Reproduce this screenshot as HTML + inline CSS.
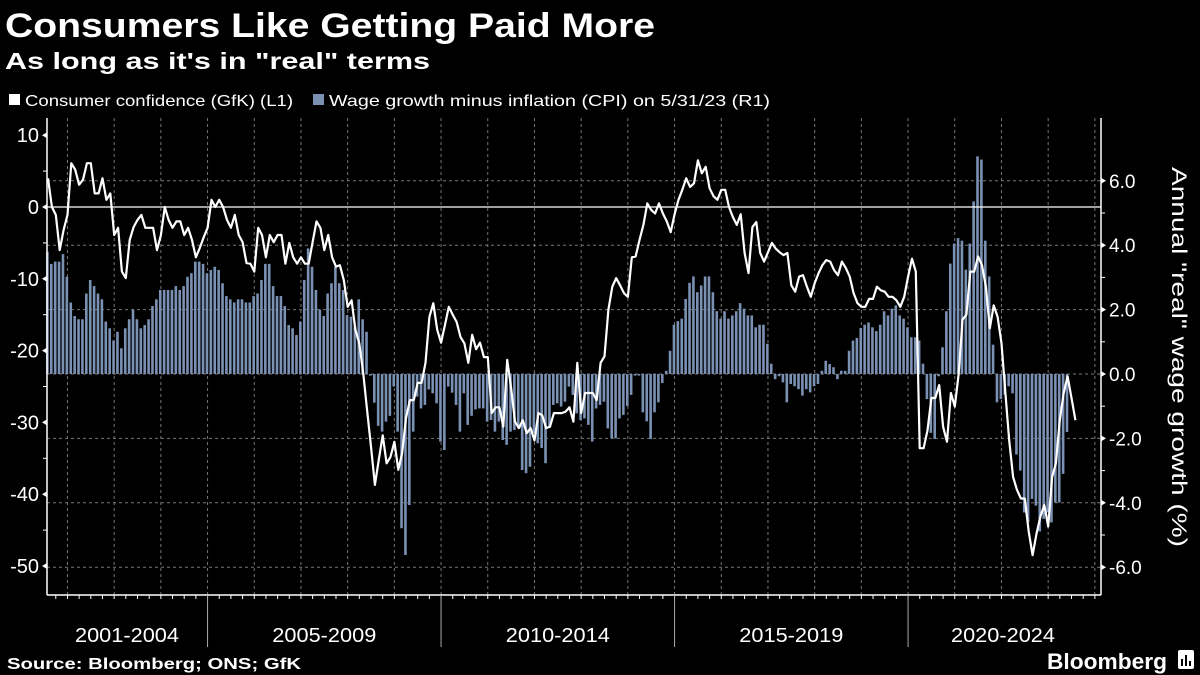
<!DOCTYPE html>
<html><head><meta charset="utf-8">
<style>
html,body{margin:0;padding:0;background:#000;}
svg{display:block;}
text{font-family:"Liberation Sans","DejaVu Sans",sans-serif;fill:#fff;}
</style></head>
<body>
<svg id="chart" width="1200" height="675" viewBox="0 0 1200 675" xmlns="http://www.w3.org/2000/svg">
<rect x="0" y="0" width="1200" height="675" fill="#000"/>
<text x="5" y="37" font-size="34" font-weight="bold" textLength="650" lengthAdjust="spacingAndGlyphs">Consumers Like Getting Paid More</text>
<text x="5" y="69" font-size="23" font-weight="bold" textLength="425" lengthAdjust="spacingAndGlyphs">As long as it's in "real" terms</text>
<g>
 <g>
  <rect x="9" y="94" width="11" height="11" fill="#fff"/>
  <text x="25" y="106" font-size="16" textLength="268" lengthAdjust="spacingAndGlyphs">Consumer confidence (GfK) (L1)</text>
 </g>
 <g>
  <rect x="313" y="94" width="11" height="11" fill="#7a91b4"/>
  <text x="329" y="106" font-size="16" textLength="441" lengthAdjust="spacingAndGlyphs">Wage growth minus inflation (CPI) on 5/31/23 (R1)</text>
 </g>
</g>
<g id="grid"></g>
<g id="bars"></g>
<g id="axes"></g>
<g id="line"></g>
<text transform="translate(1172,357) rotate(90)" text-anchor="middle" font-size="21" textLength="380" lengthAdjust="spacingAndGlyphs">Annual "real" wage growth (%)</text>
<text x="7" y="669" font-size="16" font-weight="bold" textLength="294" lengthAdjust="spacingAndGlyphs">Source: Bloomberg; ONS; GfK</text>
<text x="1047" y="669" font-size="22" font-weight="bold" textLength="120" lengthAdjust="spacingAndGlyphs">Bloomberg</text>
<g>
 <rect x="1178" y="650" width="16" height="19" rx="2" fill="#fff"/>
 <rect x="1181" y="659" width="2" height="7" fill="#000"/>
 <rect x="1185" y="655" width="2" height="11" fill="#000"/>
 <rect x="1189" y="661" width="2" height="5" fill="#000"/>
</g>
</svg>
<script>
const confidence = [4,0,-1.1,-6,-3.2,-1.1,6.1,5.2,3.1,3.8,6.1,6.1,1.9,1.9,4,1,1.9,-3.9,-2.9,-9,-9.9,-4.6,-2.8,-1.8,-1.1,-2.9,-2.9,-2.9,-6,-3.9,0,-1.8,-2.9,-2,-2,-3.9,-2.9,-4.6,-7,-5.7,-4.2,-2.9,1,0,1,0,-1.8,-2.9,-1.1,-3.9,-4.9,-7.8,-7.9,-9,-2.9,-3.9,-7,-3.9,-4.9,-3.9,-3.9,-7.9,-5,-7,-7.9,-7,-7.9,-7.9,-4.9,-2,-2.9,-6,-3.9,-7,-8.3,
-8.1,-10.2,-13.9,-13,-17.1,-19,-23.1,-28.3,-33.4,-38.7,-35.2,-31.8,-35.7,-34.8,-32.7,-36.6,-34.3,-29.4,-26.9,-26.9,-24.5,-24.5,-21.7,-15.3,-13.4,-17.1,-18.9,-16.4,-13.9,-15,-16,-18.1,-19,-21.7,-17.8,-19.8,-18.9,-20.9,-20.9,-28.7,-27.9,-27.9,-30.6,-21.3,-25.2,-29.9,-30.8,-29.7,-31.5,-30.8,-32.5,-28.7,-29,-30.8,-30.6,-28.7,-28.7,-28.7,-28.5,-27.9,-29.9,-21.7,-28.7,-25.9,-25.9,-25.9,-26.9,-21.7,-20.8,-14.3,-11.1,-9.9,-10.9,-12,-12.5,-7,
-6.9,-4.6,-2.5,0.5,-0.4,-0.9,0.5,-0.9,-2,-3.5,-1,1,2.4,4,2.8,3.3,6.5,4.7,5.6,2.6,1.5,1,2.4,2.4,0,-1.4,-2.5,-1,-6.4,-9.2,-2.8,-2.1,-6.4,-7.6,-6.3,-5,-5.8,-6.3,-6.7,-6.4,-10.9,-11.8,-9.7,-9.5,-11.1,-12.5,-10.6,-9.2,-8.1,-7.4,-7.6,-8.8,-9.5,-7.6,-8.5,-9.7,-12,-13.4,-13.9,-13.9,-12.8,-12.8,-11.1,-11.6,-11.8,-12.5,-12.5,-13,-13.9,-12.5,-9.7,-7.2,-9,
-33.6,-33.6,-31.1,-26.6,-26.6,-24.8,-30.6,-32.7,-25.9,-27.8,-23.2,-15.7,-15,-9,-9,-6.9,-8.1,-11.1,-16.9,-13.7,-15.3,-19,-25.9,-32.5,-37.6,-39.4,-40.6,-40.6,-45.2,-48.5,-45.5,-43.1,-41.5,-44.5,-37.6,-35.7,-29.7,-25.9,-23.6,-26.6,-29.7];
const wageGrowth = [3.8,3.42,3.49,3.49,3.72,3.02,2.22,1.8,1.7,1.7,2.5,2.92,2.73,2.5,2.32,1.63,1.42,1.04,1.31,0.8,1.42,1.7,2.0,1.7,1.42,1.52,1.7,2.11,2.32,2.61,2.61,2.61,2.61,2.73,2.61,2.73,3.02,3.13,3.49,3.49,3.42,3.13,3.23,3.33,3.23,2.82,2.42,2.32,2.22,2.32,2.32,2.22,2.22,2.42,2.5,2.92,3.42,3.42,2.73,2.42,2.42,2.11,1.52,1.42,1.21,1.63,2.92,3.9,3.33,2.61,2.0,1.8,2.5,2.82,3.33,2.82,
2.61,1.83,1.78,1.47,2.32,1.7,1.31,-0.05,-0.89,-1.61,-1.79,-1.48,-1.3,-0.39,-1.79,-4.79,-5.62,-4.07,-1.79,-0.7,-1.07,-0.96,-0.48,-0.6,-0.91,-2.1,-2.36,-0.39,-0.58,-0.96,-1.79,-0.6,-1.58,-1.3,-1.1,-1.07,-1.07,-1.48,-1.43,-1.79,-1.48,-2.05,-2.2,-1.79,-1.74,-1.69,-2.98,-3.08,-2.88,-1.84,-2.15,-2.3,-2.77,-1.64,-0.96,-0.91,-1.01,-0.86,-0.39,-0.65,-1.22,-1.43,-1.38,-1.58,-2.1,-1.07,-0.96,-0.86,-1.69,-2.0,-2.0,-1.38,-1.27,-0.99,-0.65,
-0.05,-0.05,-1.19,-1.47,-2.02,-1.19,-0.88,-0.28,0.1,0.72,1.53,1.64,1.72,2.33,2.83,3.03,2.54,2.75,3.03,3.03,2.54,1.95,1.72,1.95,1.72,1.82,1.95,2.2,2.03,1.82,1.82,1.45,1.53,1.53,0.94,0.32,-0.16,-0.07,-0.26,-0.88,-0.31,-0.38,-0.47,-0.67,-0.47,-0.57,-0.38,-0.31,0.1,0.41,0.31,0.21,-0.16,0.1,0.1,0.72,1.04,1.12,1.43,1.53,1.6,1.45,1.33,1.53,1.95,1.82,2.03,2.13,1.82,1.72,1.45,1.14,1.14,1.04,
0.32,-0.78,-1.83,-2.02,-0.07,0.83,1.95,3.43,4.05,4.22,4.14,3.24,4.05,5.36,6.76,6.66,4.14,3.03,0.91,-0.88,-0.78,-0.64,-0.38,-0.6,-2.5,-3.0,-4.3,-4.61,-3.88,-4.09,-4.89,-4.5,-4.3,-4.61,-3.99,-3.99,-3.1,-1.8];
const leftTicks = [10,0,-10,-20,-30,-40,-50];
const leftTickLabels = ["10","0","-10","-20","-30","-40","-50"];
const rightTicks = [6,4,2,0,-2,-4,-6];
const rightTickLabels = ["6.0","4.0","2.0","0.0","-2.0","-4.0","-6.0"];
const periodLabels = ["2001-2004","2005-2009","2010-2014","2015-2019","2020-2024"];
const periodStartYears = [2001,2005,2010,2015,2020,2025];
const startYear = 2001, startMonth = 7;

const NS = "http://www.w3.org/2000/svg";
const PL = 47, PR = 1101, PT = 118, PB = 595;
const MONTH_PX = 46.7/12;
function xMonth(i){ return 48 + i*MONTH_PX; }
function xYear(y){ return xMonth((y - startYear)*12 - startMonth); }
function yLeft(v){ return 207 - v*7.18; }
function yRight(v){ return 374 - v*32.2; }
function mk(tag, attrs, parent){
  const e = document.createElementNS(NS, tag);
  for (const k in attrs) e.setAttribute(k, attrs[k]);
  parent.appendChild(e); return e;
}
const grid = document.getElementById('grid');
const axes = document.getElementById('axes');
const barsG = document.getElementById('bars');
const lineG = document.getElementById('line');

for (let y = 2002; y <= 2024; y++) {
  const x = xYear(y);
  const g = mk('line', {x1:x, x2:x, y1:PT, y2:PB, stroke:'#777', 'stroke-width':1, 'stroke-dasharray':'3,3'}, grid);
  
  
}
rightTicks.forEach(v => {
  const y = yRight(v);
  const g = mk('line', {x1:PL, x2:PR, y1:y, y2:y, stroke:'#777', 'stroke-width':1, 'stroke-dasharray':'3,3'}, grid);
  
  
});

wageGrowth.forEach((v, i) => {
  const x = xMonth(i) - 0.6;
  const y0 = yRight(0), y1 = yRight(v);
  const r = mk('rect', {x: x - 1.3, y: Math.min(y0, y1), width: 2.6, height: Math.max(0.5, Math.abs(y1 - y0)), fill: '#7a91b4'}, barsG);
  
  
});

const zl = mk('line', {x1:PL, x2:PR, y1:yLeft(0), y2:yLeft(0), stroke:'#fff', 'stroke-width':1.2}, axes);



const la = mk('line', {x1:PL, x2:PL, y1:PT, y2:PB, stroke:'#fff', 'stroke-width':1.5}, axes);


const ra = mk('line', {x1:PR, x2:PR, y1:PT, y2:PB, stroke:'#fff', 'stroke-width':1.5}, axes);


const ba = mk('line', {x1:PL, x2:PR, y1:PB, y2:PB, stroke:'#fff', 'stroke-width':1.5}, axes);



leftTicks.forEach((v, k) => {
  const y = yLeft(v);
  const t = mk('path', {d:`M${PL} ${y-3} L${PL-5} ${y} L${PL} ${y+3} Z`, fill:'#fff'}, axes);
  
  
  const tx = mk('text', {x: PL-8, y: y+7, 'font-size': 20, 'text-anchor':'end'}, axes);
  tx.textContent = leftTickLabels[k];
  
  
  if (k < leftTicks.length - 1) {
    const ym = yLeft(v - 5);
    const m = mk('line', {x1:PL, x2:PL-4, y1:ym, y2:ym, stroke:'#fff', 'stroke-width':1}, axes);
    
    
  }
});
rightTicks.forEach((v, k) => {
  const y = yRight(v);
  const t = mk('path', {d:`M${PR} ${y-3} L${PR+5} ${y} L${PR} ${y+3} Z`, fill:'#fff'}, axes);
  
  
  const tx = mk('text', {x: PR+8, y: y+7, 'font-size': 19}, axes);
  tx.textContent = rightTickLabels[k];
  
  
  if (k < rightTicks.length - 1) {
    const ym = yRight(v - 1);
    const m = mk('line', {x1:PR, x2:PR+4, y1:ym, y2:ym, stroke:'#fff', 'stroke-width':1}, axes);
    
    
  }
});
for (let q = 0; ; q++) {
  const x = xYear(2001.75 + q*0.25);
  if (x > PR - 2) break;
  if (x < PL + 2) continue;
  const t = mk('line', {x1:x, x2:x, y1:PB, y2:PB+4, stroke:'#fff', 'stroke-width':1}, axes);
  
  
}
periodLabels.forEach((lab, k) => {
  const x0 = Math.max(PL, xYear(periodStartYears[k]));
  if (k > 0) {
    const s = mk('line', {x1:x0, x2:x0, y1:PB, y2:647, stroke:'#aaa', 'stroke-width':1}, axes);
    
    
  }
  let cx = (xYear(periodStartYears[k]) + xYear(periodStartYears[k+1]))/2;
  if (k === 0) cx = 127;
  if (k === periodLabels.length - 1) cx = 1003;
  const tx = mk('text', {x: cx, y: 642, 'font-size': 20.5, 'text-anchor':'middle', textLength: 104, lengthAdjust: 'spacingAndGlyphs'}, axes);
  tx.textContent = lab;
  
  
});

const pts = confidence.map((v, i) => `${xMonth(i).toFixed(1)},${yLeft(v).toFixed(1)}`).join(' ');
const pl = mk('polyline', {points: pts, fill:'none', stroke:'#fff', 'stroke-width':2.2, 'stroke-linejoin':'round'}, lineG);


</script>
</body></html>
